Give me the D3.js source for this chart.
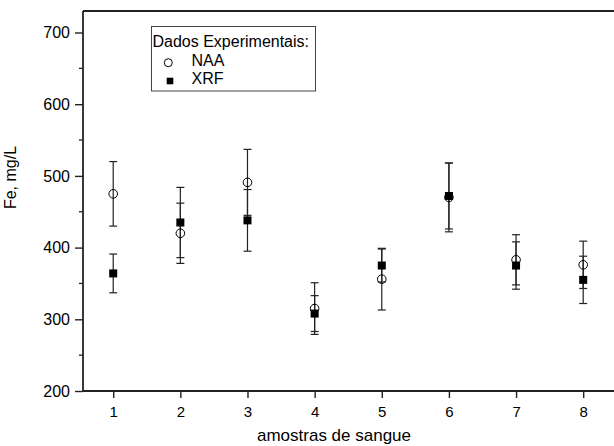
<!DOCTYPE html>
<html>
<head>
<meta charset="utf-8">
<script src="https://cdn.jsdelivr.net/npm/d3@7"></script>
<style>
  body { margin: 0; background: #fff; }
  svg { display: block; font-family: "Liberation Sans", Arial, sans-serif; }
</style>
</head>
<body>
<svg id="chart"></svg>
<script>
var samples = [1, 2, 3, 4, 5, 6, 7, 8];
var naaValues = [475, 420, 491, 315, 356, 470, 383, 376];
var naaErrors = [45, 42, 46, 36, 43, 48, 35, 33];
var xrfValues = [364, 435, 438, 308, 375, 472, 375, 355];
var xrfErrors = [27, 49, 43, 25, 23, 46, 33, 33];
var yTicks = [200, 300, 400, 500, 600, 700];

function start() {
    var width = 614, height = 446;
    var font = '"Liberation Sans", Arial, sans-serif';
    var svg = d3.select('#chart')
        .attr('width', width)
        .attr('height', height);

    var x = d3.scaleLinear().domain([0.55, 8.5]).range([83, 83 + 7.95 * 67.14]);
    var y = d3.scaleLinear().domain([200, 730]).range([391, 11]);

    // frame (right side runs past the picture)
    svg.append('line').attr('x1', 83).attr('x2', width + 5).attr('y1', 11).attr('y2', 11)
        .attr('stroke', '#222').attr('stroke-width', 1.8);

    var yAxis = d3.axisLeft(y).tickValues(yTicks).tickSize(8).tickPadding(5);
    var gy = svg.append('g').attr('transform', 'translate(83,0)').call(yAxis);
    gy.select('.domain').attr('d', 'M0,' + y(730) + 'V' + y(200));
    gy.selectAll('.tick text').attr('font-size', 16).attr('fill', '#000')
        .attr('font-family', font);
    gy.append('g').selectAll('line')
        .data(d3.range(250, 730, 100))
        .enter().append('line')
        .attr('x1', -4).attr('x2', 0)
        .attr('y1', function (d) { return y(d); })
        .attr('y2', function (d) { return y(d); })
        .attr('stroke', '#222').attr('stroke-width', 1.3);

    var xAxis = d3.axisBottom(x).tickValues(samples).tickSize(7).tickPadding(8).tickSizeOuter(0);
    var gx = svg.append('g').attr('transform', 'translate(0,391)').call(xAxis);
    gx.select('.domain').attr('d', 'M83,0H' + (width + 5));
    gx.selectAll('.tick text').attr('font-size', 15).attr('fill', '#000')
        .attr('font-family', font);

    svg.selectAll('.domain').attr('stroke', '#222').attr('stroke-width', 1.8);
    svg.selectAll('.tick line').attr('stroke', '#222').attr('stroke-width', 1.4);

    svg.append('text')
        .attr('transform', 'translate(16,177.5) rotate(-90)')
        .attr('text-anchor', 'middle')
        .attr('font-size', 16)
        .text('Fe, mg/L');

    svg.append('text')
        .attr('x', 334).attr('y', 441)
        .attr('text-anchor', 'middle')
        .attr('font-size', 17)
        .text('amostras de sangue');

    function drawSeries(values, errors, cls) {
        var g = svg.append('g').attr('class', cls);
        var bars = g.selectAll('g.err')
            .data(samples)
            .enter().append('g').attr('class', 'err')
            .attr('stroke', '#222').attr('stroke-width', 1.2);
        bars.append('line')
            .attr('x1', function (d) { return x(d); })
            .attr('x2', function (d) { return x(d); })
            .attr('y1', function (d, i) { return y(values[i] + errors[i]); })
            .attr('y2', function (d, i) { return y(values[i] - errors[i]); });
        [1, -1].forEach(function (s) {
            bars.append('line')
                .attr('x1', function (d) { return x(d) - 4; })
                .attr('x2', function (d) { return x(d) + 4; })
                .attr('y1', function (d, i) { return y(values[i] + s * errors[i]); })
                .attr('y2', function (d, i) { return y(values[i] + s * errors[i]); });
        });
        return g;
    }

    drawSeries(naaValues, naaErrors, 'naa');
    drawSeries(xrfValues, xrfErrors, 'xrf');

    svg.append('g').selectAll('rect')
        .data(samples)
        .enter().append('rect')
        .attr('x', function (d) { return x(d) - 4; })
        .attr('y', function (d, i) { return y(xrfValues[i]) - 4; })
        .attr('width', 8).attr('height', 8)
        .attr('fill', '#000');

    svg.append('g').selectAll('circle')
        .data(samples)
        .enter().append('circle')
        .attr('cx', function (d) { return x(d); })
        .attr('cy', function (d, i) { return y(naaValues[i]); })
        .attr('r', 4.3)
        .attr('fill', 'none')
        .attr('stroke', '#000')
        .attr('stroke-width', 1);

    // legend
    var lg = svg.append('g');
    lg.append('rect').attr('x', 151.5).attr('y', 26.5).attr('width', 164).attr('height', 64.5)
        .attr('fill', '#fff').attr('stroke', '#444').attr('stroke-width', 1);
    lg.append('text').attr('x', 152.5).attr('y', 46.5).attr('font-size', 16).text('Dados Experimentais:');
    lg.append('circle').attr('cx', 168.3).attr('cy', 62.7).attr('r', 4)
        .attr('fill', 'none').attr('stroke', '#000');
    lg.append('text').attr('x', 191.5).attr('y', 65.7).attr('font-size', 16).text('NAA');
    lg.append('rect').attr('x', 166.7).attr('y', 77.7).attr('width', 6.6).attr('height', 6.6).attr('fill', '#000');
    lg.append('text').attr('x', 191.5).attr('y', 84).attr('font-size', 16).text('XRF');
}

start();
</script>
</body>
</html>
